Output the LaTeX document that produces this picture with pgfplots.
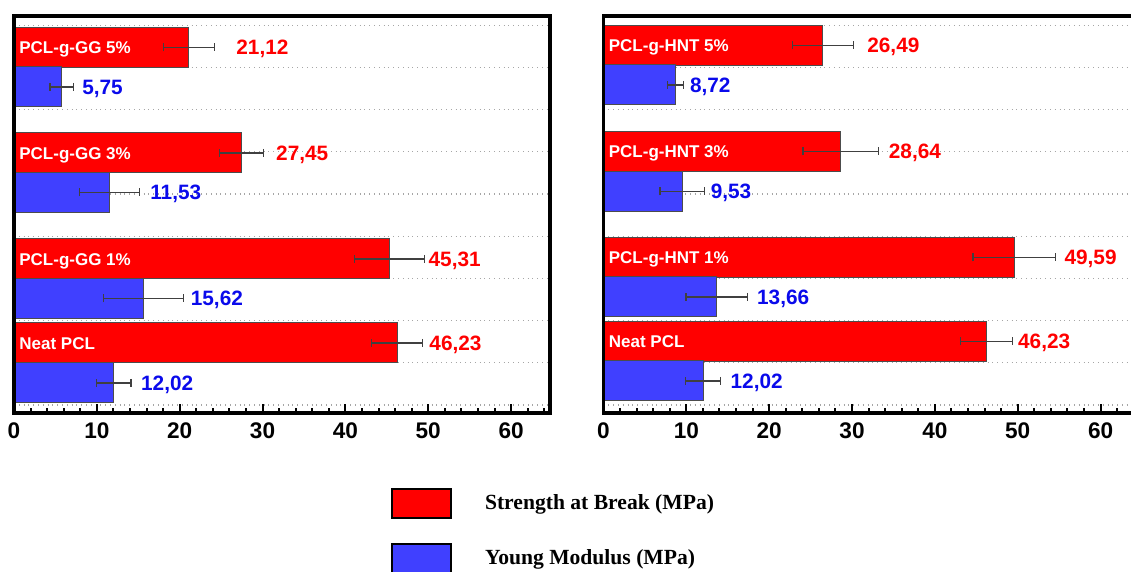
\documentclass[border=0pt]{standalone}
\usepackage{pgfplots}
\usepackage{pgfplotstable}
\pgfplotsset{compat=1.18}
\usepackage{fontspec}
\setmainfont{Liberation Serif}
\newfontfamily\arial{Liberation Sans}
\definecolor{barred}{RGB}{255,0,0}
\definecolor{barblue}{RGB}{64,64,255}
\definecolor{txtred}{RGB}{255,0,0}
\definecolor{txtblue}{RGB}{10,10,235}

% left panel (PCL-g-GG)
\pgfplotstableread{
y     x      err
365.7 21.12  3.1
260   27.45  2.65
154   45.31  4.2
70    46.23  3.1
}\Lred
\pgfplotstableread{
y     x      err
326   5.75   1.4
220.5 11.53  3.6
114.5 15.62  4.8
30    12.02  2.1
}\Lblue
% right panel (PCL-g-HNT)
\pgfplotstableread{
y     x      err
367.5 26.49  3.7
261.5 28.64  4.55
155.5 49.59  5.0
71.5  46.23  3.1
}\Rred
\pgfplotstableread{
y     x      err
328   8.72   0.95
221.5 9.53   2.7
116   13.66  3.7
32    12.02  2.15
}\Rblue

\pgfplotsset{
  panel/.style={
    scale only axis, width=268pt, height=198.5pt,
    anchor=south west,
    xmin=0, xmax=64.7, ymin=0, ymax=397,
    clip=false,
    axis line style={line width=1.6pt, black},
    xtick={0,10,...,60}, minor xtick={2,4,...,64},
    xtick pos=left, tick align=inside,
    major tick length=4.5pt, minor tick length=2.5pt,
    every tick/.style={black, line width=1pt},
    ytick={8,50.2,92.4,134.6,176.8,219,261.2,303.4,345.6,387.8},
    yticklabels={}, ytick style={draw=none},
    ymajorgrids, y grid style={dotted, gray!70, line width=0.6pt},
    ticklabel style={font=\arial\bfseries\fontsize{11.3}{13}\selectfont, yshift=-1.5pt},
    /pgf/number format/assume math mode=true,
  },
  redbar/.style={xbar, bar width=20pt, bar shift=0pt, fill=barred, draw=black!70, line width=0.5pt, forget plot,
     error bars/.cd, x dir=both, x explicit, error bar style={black!75, line width=0.6pt},
     error mark options={rotate=90, black!75, mark size=2pt, line width=0.6pt}},
  bluebar/.style={xbar, bar width=20pt, bar shift=0pt, fill=barblue, draw=black!70, line width=0.5pt, forget plot,
     error bars/.cd, x dir=both, x explicit, error bar style={black!75, line width=0.6pt},
     error mark options={rotate=90, black!75, mark size=2pt, line width=0.6pt}},
}
\tikzset{
  vlab/.style={anchor=west, inner sep=0pt, font=\arial\bfseries\fontsize{10.4}{12}\selectfont, text height=7.45pt, text depth=0pt},
  clab/.style={anchor=west, inner sep=0pt, text=white, font=\arial\bfseries\fontsize{8.5}{10}\selectfont, text height=6.1pt, text depth=0pt},
}

\begin{document}
\begin{tikzpicture}
\begin{axis}[panel, at={(7pt,79.5pt)},
  legend style={at={(0.7034,-0.1890)}, anchor=north west, draw=none, fill=none,
    inner sep=0pt, outer sep=0pt, row sep=12pt, column sep=15.5pt,
    font=\bfseries\fontsize{10.8}{12}\selectfont, nodes={inner sep=1pt}},
  legend cell align=left]
\addplot[redbar] table[x=x, y=y, x error=err] {\Lred};
\addplot[bluebar] table[x=x, y=y, x error=err] {\Lblue};
\draw[line width=1.6pt] (rel axis cs:0,0) -- (rel axis cs:0,1);
\node[clab] at (axis cs:0.6,365.7) {PCL-g-GG 5\%};
\node[clab] at (axis cs:0.6,260) {PCL-g-GG 3\%};
\node[clab] at (axis cs:0.6,154) {PCL-g-GG 1\%};
\node[clab] at (axis cs:0.6,70) {Neat PCL};
\node[vlab, text=txtred] at (axis cs:26.8,365.7) {21,12};
\node[vlab, text=txtblue] at (axis cs:8.2,326) {5,75};
\node[vlab, text=txtred] at (axis cs:31.6,260) {27,45};
\node[vlab, text=txtblue] at (axis cs:16.4,220.5) {11,53};
\node[vlab, text=txtred] at (axis cs:50.0,154) {45,31};
\node[vlab, text=txtblue] at (axis cs:21.3,114.5) {15,62};
\node[vlab, text=txtred] at (axis cs:50.1,70) {46,23};
\node[vlab, text=txtblue] at (axis cs:15.3,30) {12,02};
\addlegendimage{legend image code/.code={\draw[fill=barred,draw=black,line width=1.2pt] (0pt,-7.15pt) rectangle (29.3pt,7.15pt);}}
\addlegendentry{Strength at Break (MPa)}
\addlegendimage{legend image code/.code={\draw[fill=barblue,draw=black,line width=1.2pt] (0pt,-7.15pt) rectangle (29.3pt,7.15pt);}}
\addlegendentry{Young Modulus (MPa)}
\end{axis}

\begin{axis}[panel, at={(301.75pt,79.5pt)}]
\addplot[redbar] table[x=x, y=y, x error=err] {\Rred};
\addplot[bluebar] table[x=x, y=y, x error=err] {\Rblue};
\draw[line width=1.6pt] (rel axis cs:0,0) -- (rel axis cs:0,1);
\node[clab] at (axis cs:0.6,367.5) {PCL-g-HNT 5\%};
\node[clab] at (axis cs:0.6,261.5) {PCL-g-HNT 3\%};
\node[clab] at (axis cs:0.6,155.5) {PCL-g-HNT 1\%};
\node[clab] at (axis cs:0.6,71.5) {Neat PCL};
\node[vlab, text=txtred] at (axis cs:31.8,367.5) {26,49};
\node[vlab, text=txtblue] at (axis cs:10.4,328) {8,72};
\node[vlab, text=txtred] at (axis cs:34.4,261.5) {28,64};
\node[vlab, text=txtblue] at (axis cs:12.9,221.5) {9,53};
\node[vlab, text=txtred] at (axis cs:55.6,155.5) {49,59};
\node[vlab, text=txtblue] at (axis cs:18.5,116) {13,66};
\node[vlab, text=txtred] at (axis cs:50.0,71.5) {46,23};
\node[vlab, text=txtblue] at (axis cs:15.3,32) {12,02};
\end{axis}
\pgfresetboundingbox
\path[use as bounding box] (0,0) rectangle (565.5pt,286pt);
\end{tikzpicture}
\end{document}
